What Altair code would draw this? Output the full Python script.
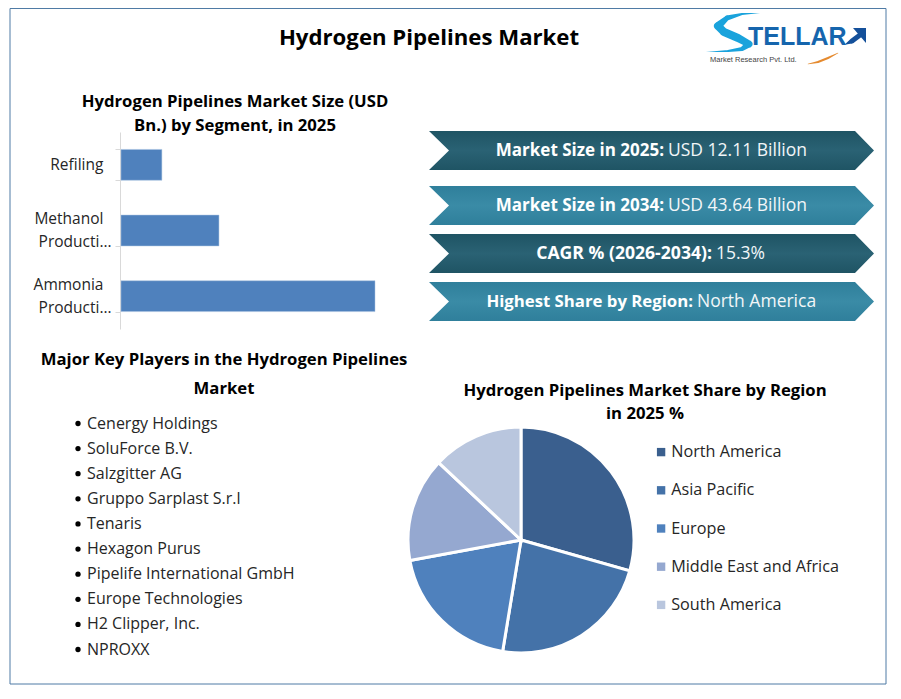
import altair as alt
import pandas as pd

W, H = 885, 683

# the zero width space keeps the padding spaces from being trimmed and holds the blank line
# labels are split on | into a three line grid, so one line sits on the band centre and two around it
ZW = "\u200b"
PAD = "\u00a0\u00a0" + ZW
segments = [ZW + "|Refiling" + PAD, "Methanol" + PAD + "|" + ZW + "|Producti…", "Ammonia" + PAD + "|" + ZW + "|Producti…"]
segment_values = [1.26, 3.02, 7.83]

regions = ["North America", "Asia Pacific", "Europe", "Middle East and Africa", "South America"]
region_shares = [29.4, 23.2, 19.5, 14.9, 13.0]
region_colors = ["#3a5f8e", "#4472a8", "#4f81bd", "#95a8d0", "#b9c6de"]

players = ["Cenergy Holdings", "SoluForce B.V.", "Salzgitter AG", "Gruppo Sarplast S.r.l", "Tenaris",
           "Hexagon Purus", "Pipelife International GmbH", "Europe Technologies", "H2 Clipper, Inc.", "NPROXX"]

FONT = "Open Sans"
EMPTY = alt.Data(values=[{}])


def label(text, x, y, size=15, weight="normal", color="black", align="center", font=FONT):
    # x, y are screenshot pixels, the page margin is 8
    return alt.Chart(EMPTY).mark_text(
        font=font, fontSize=size, fontWeight=weight, color=color, align=align, baseline="middle"
    ).encode(x=alt.value(x - 8), y=alt.value(y - 8), text=alt.value(text))


px_x = alt.Scale(domain=[8, 8 + W], range=[0, W])
px_y = alt.Scale(domain=[8, 8 + H], range=[0, H])


def banner(top, bottom, dark):
    if dark:
        stops = ["#1f5464", "#2a6274", "#1f5464"]
    else:
        stops = ["#2f7f9b", "#3a8ba6", "#2f7f9b"]
    mid = (top + bottom) / 2
    df = pd.DataFrame({"y": [top, mid, bottom], "x1": [429, 449, 429], "x2": [855, 874, 855]})
    return alt.Chart(df).mark_area(
        orient="horizontal",
        color=alt.LinearGradient(gradient="linear", x1=0, x2=0, y1=0, y2=1,
                                 stops=[alt.GradientStop(color=stops[0], offset=0),
                                        alt.GradientStop(color=stops[1], offset=0.5),
                                        alt.GradientStop(color=stops[2], offset=1)])
    ).encode(
        y=alt.Y("y:Q", scale=px_y, axis=None),
        x=alt.X("x1:Q", scale=px_x, axis=None),
        x2="x2:Q",
    )


def banner_text(bold, plain, split, y, bold_size=17):
    return [label(bold, split, y, size=bold_size, weight="bold", color="white", align="right"),
            label(plain, split + 4, y, size=17.5, color="#f2f6f8", align="left")]


def logo_trail(df, color):
    return alt.Chart(df).mark_trail(color=color).encode(
        x=alt.X("x:Q", scale=px_x, axis=None),
        y=alt.Y("y:Q", scale=px_y, axis=None),
        size=alt.Size("w:Q", scale=alt.Scale(domain=[0, 8], range=[0, 8]), legend=None),
        order="o:Q",
    )


frame = alt.Chart(EMPTY).mark_rect(fillOpacity=0, stroke="#4f7ba5", strokeWidth=1).encode(
    x=alt.value(10 - 8), x2=alt.value(886 - 8), y=alt.value(0.5), y2=alt.value(684 - 8)
)

# bar panel
bar_df = pd.DataFrame({"segment": segments, "value": segment_values})
bars = alt.Chart(bar_df).mark_bar(color="#4f81bd", stroke="#a9c3e0", strokeWidth=0.5).encode(
    x=alt.X("value:Q", axis=None, scale=alt.Scale(domain=[0, 7.83], range=[113, 367])),
    y=alt.Y("segment:N", sort=segments, title=None,
            scale=alt.Scale(domain=segments, range=[124, 321], paddingInner=0.53, paddingOuter=0.265),
            axis=alt.Axis(orient="left", offset=-112, tickBand="extent", tickSize=5, tickColor="#d9d9d9",
                          domainColor="#d9d9d9", grid=False, labelFont=FONT, labelFontSize=15.5,
                          labelColor="#262626", labelPadding=4, labelLimit=0, labelLineHeight=11.5,
                          labelBaseline="middle", labelOffset=-12, labelExpr="split(datum.label, '|')")),
)

# players list
player_df = pd.DataFrame({"player": players})
player_y = alt.Y("player:N", sort=players, axis=None,
                 scale=alt.Scale(type="point", domain=players, range=[415.5, 641.5], padding=0))
player_text = alt.Chart(player_df).mark_text(font=FONT, fontSize=16, color="#262626", align="left").encode(
    x=alt.value(87 - 8), y=player_y, text="player:N"
)
player_dots = alt.Chart(player_df).mark_point(filled=True, color="black", size=28, opacity=1).encode(
    x=alt.value(78 - 8), y=player_y
)

# pie
pie_df = pd.DataFrame({"region": regions, "share": region_shares, "rank": range(5)})
pie = alt.Chart(pie_df).mark_arc(radius=113, stroke="white", strokeWidth=3).encode(
    theta=alt.Theta("share:Q", stack=True),
    order=alt.Order("rank:Q"),
    color=alt.Color("region:N", sort=regions,
                    scale=alt.Scale(domain=regions, range=region_colors),
                    legend=alt.Legend(orient="none", legendX=645, legendY=436, title=None,
                                      symbolType="square", symbolSize=70, symbolStrokeWidth=0,
                                      labelFont=FONT, labelFontSize=16.2, labelColor="#262626",
                                      labelOffset=2, labelLimit=0, rowPadding=21.2, padding=0)),
    x=alt.value(521 - 8),
    y=alt.value(540 - 8),
)

# logo, rough
swoosh = logo_trail(pd.DataFrame({
    "x": [760, 742, 727, 718, 724, 738, 749, 742, 728, 706],
    "y": [13, 14, 18, 26, 32, 38, 44, 49, 51, 52],
    "w": [0.2, 2, 5, 8, 8, 8, 7, 4, 2, 0.2],
    "o": range(10),
}), "#1aa3dc")
orange = logo_trail(pd.DataFrame({
    "x": [808, 818, 828, 838], "y": [64, 62, 58, 53], "w": [0.5, 2, 2, 0.5], "o": range(4)
}), "#e58a2e")
arrow_tail = logo_trail(pd.DataFrame({
    "x": [846, 852, 860], "y": [44, 41, 35], "w": [1, 5, 5], "o": range(3)
}), "#14509a")
arrow_head = alt.Chart(pd.DataFrame({"x": [853, 866], "y": [28, 28], "y2": [28, 43]})).mark_area(color="#14509a").encode(
    x=alt.X("x:Q", scale=px_x, axis=None),
    y=alt.Y("y:Q", scale=px_y, axis=None),
    y2="y2:Q",
)

chart = alt.layer(
    frame,
    label("Hydrogen Pipelines Market", 429, 38, size=22.2, weight="bold"),
    label("Hydrogen Pipelines Market Size (USD", 235, 102, size=16.7, weight="bold"),
    label("Bn.) by Segment, in 2025", 235, 126, size=16.7, weight="bold"),
    bars,
    banner(131, 170, True),
    banner(186, 225, False),
    banner(234, 273, True),
    banner(282, 321, False),
    *banner_text("Market Size in 2025:", "USD 12.11 Billion", 664, 151),
    *banner_text("Market Size in 2034:", "USD 43.64 Billion", 664, 206),
    *banner_text("CAGR % (2026-2034):", "15.3%", 712, 254, bold_size=17.6),
    *banner_text("Highest Share by Region:", "North America", 693, 302, bold_size=16.75),
    label("Major Key Players in the Hydrogen Pipelines", 224, 360, size=16.7, weight="bold"),
    label("Market", 224, 389, size=16.7, weight="bold"),
    player_dots,
    player_text,
    label("Hydrogen Pipelines Market Share by Region", 645, 391, size=16.7, weight="bold"),
    label("in 2025 %", 645, 414, size=16.7, weight="bold"),
    pie,
    swoosh,
    label("TELLAR", 748, 37, size=25, weight="bold", color="#1565ad", align="left", font="Liberation Sans"),
    arrow_tail,
    arrow_head,
    orange,
    label("Market Research Pvt. Ltd.", 710, 60, size=7.5, color="#444444", align="left", font="Liberation Sans"),
).resolve_scale(
    x="independent", y="independent", color="independent", size="independent"
).properties(
    width=W, height=H, padding=0, autosize=alt.AutoSizeParams(type="none")
).configure_view(stroke=None)

chart.save("out.html", embed_options={"renderer": "svg", "actions": False})
